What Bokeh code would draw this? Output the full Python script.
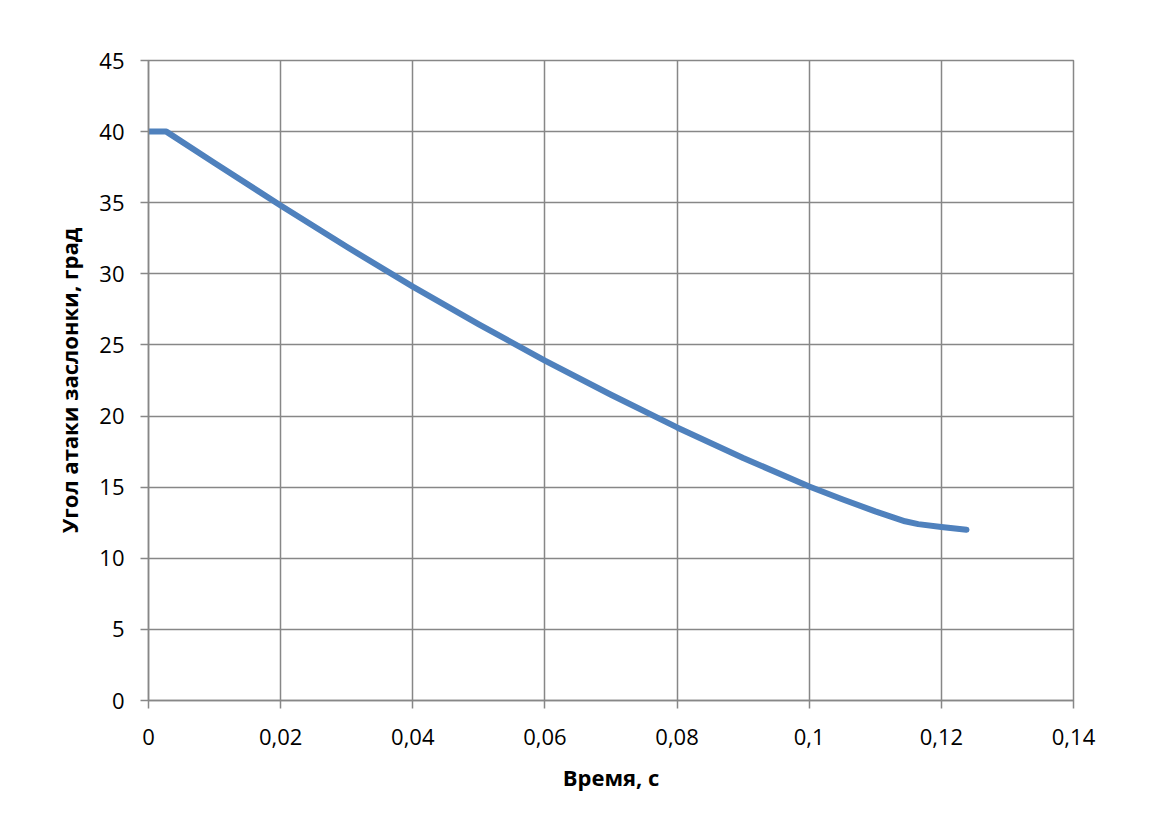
from bokeh.plotting import figure
from bokeh.embed import file_html
from bokeh.resources import INLINE
from bokeh.models import FixedTicker, CustomJSTickFormatter, Range1d

# Data
time_s = [0, 0.0027, 0.01, 0.02, 0.03, 0.04, 0.05, 0.06, 0.07, 0.08, 0.09, 0.10, 0.105, 0.11, 0.1145, 0.1165, 0.12, 0.1238]
angle_deg = [40, 40, 37.8, 34.8, 31.9, 29.1, 26.45, 23.9, 21.5, 19.2, 17.05, 15.05, 14.15, 13.3, 12.6, 12.4, 12.2, 12.0]
x_ticks = [0, 0.02, 0.04, 0.06, 0.08, 0.10, 0.12, 0.14]
y_ticks = [0, 5, 10, 15, 20, 25, 30, 35, 40, 45]
x_label = "Время, с"
y_label = "Угол атаки заслонки, град"

FONT = "Open Sans"
GRID = "#878787"

p = figure(width=1148, height=803, output_backend="svg", toolbar_location=None,
           x_range=Range1d(0, 0.14), y_range=Range1d(0, 45),
           min_border_left=148, min_border_top=60, min_border_right=75, min_border_bottom=103)

p.line(time_s, angle_deg, line_color="#4F81BD", line_width=6, line_join="round", line_cap="round")

fmt = CustomJSTickFormatter(code="return parseFloat(tick.toFixed(4)).toString().replace('.', ',');")
p.xaxis.ticker = FixedTicker(ticks=x_ticks)
p.yaxis.ticker = FixedTicker(ticks=y_ticks)
p.xaxis.formatter = fmt
p.yaxis.formatter = fmt

for ax in (p.xaxis, p.yaxis):
    ax.axis_line_color = GRID
    ax.axis_line_width = 1.5
    ax.major_tick_line_color = GRID
    ax.major_tick_line_width = 1.5
    ax.major_tick_in = 0
    ax.major_tick_out = 8
    ax.minor_tick_line_color = None
    ax.major_label_text_font = FONT
    ax.major_label_text_font_size = "22px"
    ax.major_label_text_color = "#000000"
    ax.axis_label_text_font = FONT
    ax.axis_label_text_font_size = "22px"
    ax.axis_label_text_font_style = "bold"
    ax.axis_label_text_color = "#000000"

p.xaxis.axis_label = x_label
p.yaxis.axis_label = y_label
p.xaxis.major_label_standoff = 20
p.yaxis.major_label_standoff = 16
p.xaxis.axis_label_standoff = 14
p.yaxis.axis_label_standoff = 12

p.xgrid.ticker = FixedTicker(ticks=x_ticks)
p.ygrid.ticker = FixedTicker(ticks=y_ticks)
for g in (p.xgrid, p.ygrid):
    g.grid_line_color = GRID
    g.grid_line_width = 1.5

p.outline_line_color = GRID
p.outline_line_width = 1.5
p.background_fill_color = "white"
p.border_fill_color = "white"

open("out.html", "w").write(file_html(p, INLINE))
